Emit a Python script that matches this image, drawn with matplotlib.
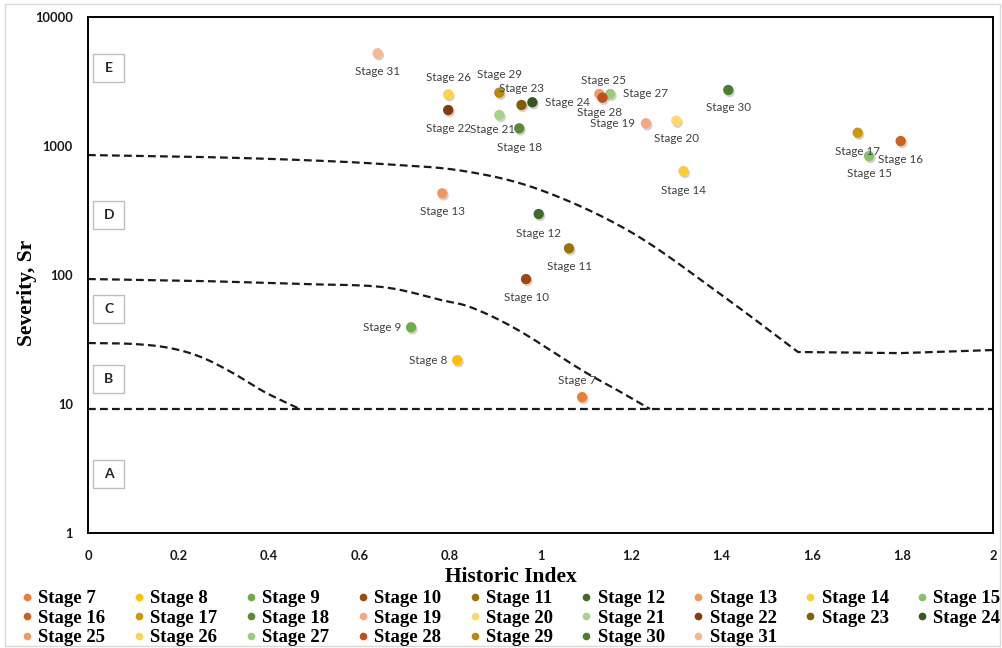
import numpy as np
import matplotlib
matplotlib.use("Agg")
import matplotlib.pyplot as plt
import matplotlib.patheffects as pe
from matplotlib.lines import Line2D
from matplotlib.patches import Rectangle
from matplotlib.font_manager import FontProperties

# ---- data -------------------------------------------------------------
stages = [f"Stage {n}" for n in range(7, 32)]
historic_index = [1.092, 0.816, 0.714, 0.968, 1.063, 0.996, 0.783, 1.316, 1.726,
                  1.796, 1.701, 0.953, 1.233, 1.300, 0.909, 0.796, 0.958, 0.982,
                  1.130, 0.796, 1.154, 1.137, 0.909, 1.415, 0.640]
severity = [11.3, 21.9, 39.3, 93, 161, 297, 430, 640, 836,
            1093, 1268, 1371, 1500, 1571, 1739, 1901, 2080, 2183,
            2530, 2517, 2530, 2368, 2589, 2718, 5234]

# zone boundaries: curved part (historic index, severity) and straight tail
bound_de_x = [0, 0.25, 0.47, 0.65, 0.83, 1.0, 1.2, 1.4, 1.569]
bound_de_y = [851, 822, 779, 725, 640, 456, 215, 70, 25.3]
bound_de_tail_x = [1.569, 1.795, 2.0]
bound_de_tail_y = [25.3, 24.8, 26.2]
bound_cd_x = [0, 0.25, 0.47, 0.65, 0.78, 0.85, 0.95, 1.09, 1.17, 1.242]
bound_cd_y = [93.1, 89.8, 85.1, 80.7, 64, 55.5, 37.5, 18.4, 12.8, 9.15]
bound_bc_x = [0, 0.1, 0.18, 0.25, 0.32, 0.39, 0.468]
bound_bc_y = [29.7, 29.2, 27.2, 23.1, 17.4, 12.4, 9.15]
bound_ab_x = [0, 2.0]
bound_ab_y = [9.15, 9.15]

zone_letters = ["E", "D", "C", "B", "A"]
zone_y = [4025, 292, 54.5, 15.6, 2.87]

x_ticks = [0, 0.2, 0.4, 0.6, 0.8, 1, 1.2, 1.4, 1.6, 1.8, 2]
x_tick_labels = ["0", "0.2", "0.4", "0.6", "0.8", "1", "1.2", "1.4", "1.6", "1.8", "2"]
y_ticks = [1, 10, 100, 1000, 10000]
y_tick_labels = ["1", "10", "100", "1000", "10000"]

# ---- styles -----------------------------------------------------------
colors = ["#ED7D31", "#FFC000", "#70AD47", "#9E480E", "#997300", "#43682B",
          "#F1975A", "#FFCD33", "#8CC168", "#D0601A", "#CC9A00", "#5A8A39",
          "#F4A784", "#FFD966", "#A9D18E", "#843C0C", "#7F6000", "#375623",
          "#F09A6A", "#FFD24D", "#9DCB7E", "#C0501A", "#B8890A", "#4E7D32",
          "#F6B898"]

# label offsets in pixels (dx, dy) relative to each point
label_offsets = {
    7: (-5, 17), 8: (-29, 0), 9: (-29, 0), 10: (0, -18), 11: (0, -18),
    12: (0, -19), 13: (0, -18), 14: (0, -19), 15: (0, -17), 16: (0, -18),
    17: (0, -19), 18: (0, -19), 19: (-33, 0), 20: (0, -18), 21: (-7, -14),
    22: (0, -18), 23: (0, 16), 24: (35, 0), 25: (4, 13), 26: (0, 17),
    27: (35, 0), 28: (-3, -15), 29: (0, 18), 30: (0, -18), 31: (0, -18),
}


def smooth_curve(xs, ys, n=24):
    """Catmull-Rom curve through the given points, built in (x, log10 y)."""
    pts = np.column_stack([np.asarray(xs, float), np.log10(ys)])
    ext = np.vstack([2 * pts[0] - pts[1], pts, 2 * pts[-1] - pts[-2]])
    t = np.linspace(0, 1, n, endpoint=False)[:, None]
    segs = []
    for i in range(1, len(ext) - 2):
        p0, p1, p2, p3 = ext[i - 1:i + 3]
        segs.append(0.5 * (2 * p1 + (-p0 + p2) * t
                           + (2 * p0 - 5 * p1 + 4 * p2 - p3) * t ** 2
                           + (-p0 + 3 * p1 - 3 * p2 + p3) * t ** 3))
    segs.append(pts[-1:])
    res = np.vstack(segs)
    return res[:, 0], 10 ** res[:, 1]


W, H = 1003, 648
fig = plt.figure(figsize=(W / 100, H / 100), dpi=100)
ax = fig.add_axes([88 / W, 1 - 533 / H, (993 - 88) / W, (533 - 17) / H])
ax.set_yscale("log")
ax.set_xlim(0, 2)
ax.set_ylim(1, 10000)

# outer chart border
fig.add_artist(Rectangle((5 / W, 1 - 646 / H), (1000 - 5) / W, (646 - 4) / H,
                         transform=fig.transFigure, fill=False,
                         edgecolor="#D9D9D9", linewidth=1.0))

dash_kw = dict(color="#1a1a1a", linewidth=1.6, linestyle=(0, (3.5, 1.9)),
               solid_capstyle="butt", dash_capstyle="butt")
de_x, de_y = smooth_curve(bound_de_x, bound_de_y)
de_x = np.concatenate([de_x, bound_de_tail_x[1:]])
de_y = np.concatenate([de_y, bound_de_tail_y[1:]])
ax.plot(de_x, de_y, **dash_kw, zorder=2)
ax.plot(*smooth_curve(bound_cd_x, bound_cd_y), **dash_kw, zorder=2)
ax.plot(*smooth_curve(bound_bc_x, bound_bc_y), **dash_kw, zorder=2)
ax.plot(bound_ab_x, bound_ab_y, **dash_kw, zorder=2)

# zone letter boxes
box_w = 31 / 452.5
box_f = 10 ** (14 / 129)
for letter, yc in zip(zone_letters, zone_y):
    xc = 0.046
    ax.add_patch(Rectangle((xc - box_w / 2, yc / box_f), box_w, yc * box_f - yc / box_f,
                           fill=True, facecolor="white", edgecolor="#BFBFBF",
                           linewidth=1.0, zorder=3))
    ax.text(xc, yc, letter, ha="center", va="center", fontsize=10,
            fontfamily="Lato", fontweight="bold", color="#262626", zorder=4)

shadow = [pe.SimplePatchShadow(offset=(1, -1.5), shadow_rgbFace="#808080", alpha=0.35),
          pe.Normal()]
for name, xv, yv, c in zip(stages, historic_index, severity, colors):
    ax.scatter([xv], [yv], s=55, color=c, edgecolors="none", zorder=5,
               path_effects=shadow)
    n = int(name.split()[1])
    dx, dy = label_offsets[n]
    ax.annotate(name, (xv, yv), xytext=(dx, dy), textcoords="offset pixels",
                ha="center", va="center", fontsize=8.4, fontfamily="Lato",
                color="#404040", zorder=6)

ax.set_xticks(x_ticks)
ax.set_xticklabels(x_tick_labels)
ax.set_yticks(y_ticks)
ax.set_yticklabels(y_tick_labels)
ax.minorticks_off()
ax.tick_params(axis="both", length=0, labelsize=9.3, labelcolor="#1a1a1a")
ax.tick_params(axis="x", pad=12)
ax.tick_params(axis="y", pad=11)
for lbl in ax.get_xticklabels() + ax.get_yticklabels():
    lbl.set_fontfamily("Lato")
    lbl.set_fontweight("bold")
for sp in ax.spines.values():
    sp.set_color("#000000")
    sp.set_linewidth(1.4)

label_font = FontProperties(family="Liberation Serif", weight="bold", size=15.5)
fig.text(511 / W, 1 - 577 / H, "Historic Index", ha="center", va="center",
         fontproperties=label_font)
fig.text(27 / W, 1 - 293 / H, "Severity, Sr", ha="center", va="center",
         rotation=90, fontproperties=label_font)

# legend, filled row by row across 9 columns
ncol = 9
handles = [Line2D([], [], linestyle="none", marker="o", markersize=5.5,
                  markerfacecolor=c, markeredgecolor="none") for c in colors]
nrows = -(-len(stages) // ncol)
order = [r * ncol + c for c in range(ncol) for r in range(nrows) if r * ncol + c < len(stages)]
leg = fig.legend([handles[i] for i in order], [stages[i] for i in order],
                 ncol=ncol, loc="upper left", bbox_to_anchor=(22 / W, 1 - 590 / H),
                 frameon=False, borderpad=0, borderaxespad=0,
                 prop=FontProperties(family="Liberation Serif", weight="bold", size=13.5),
                 handlelength=0.5, handletextpad=0.35, columnspacing=1.54,
                 labelspacing=0.127)

fig.savefig("out.png", dpi=100, facecolor="white")
